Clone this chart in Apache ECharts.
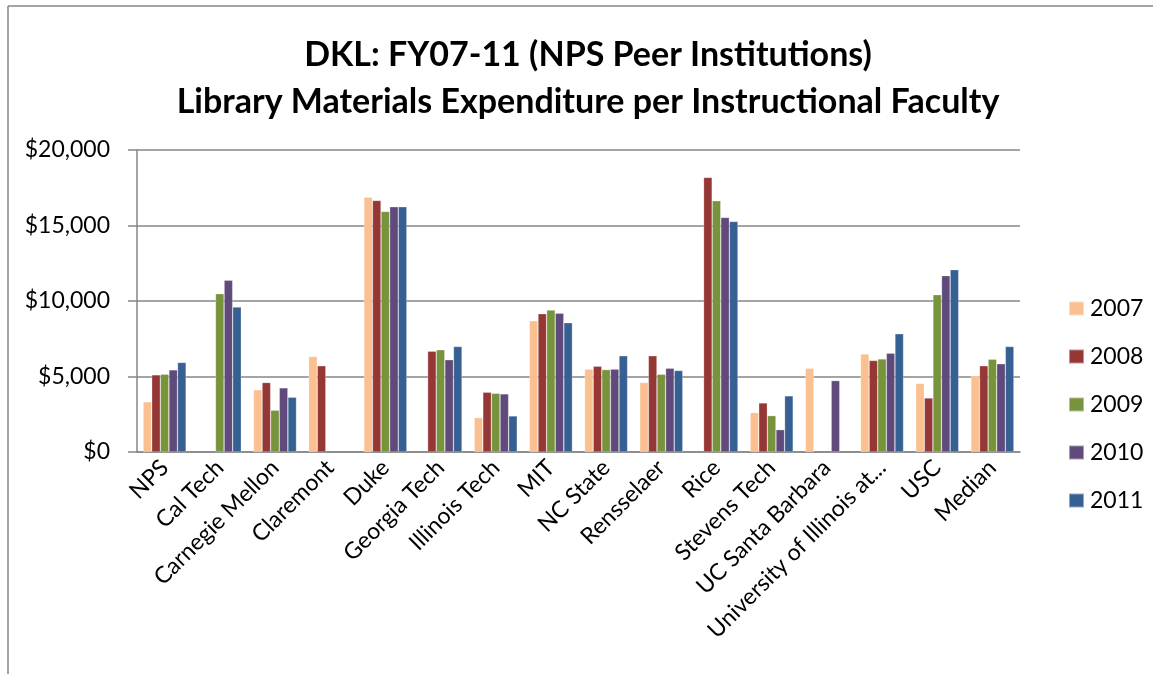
<!DOCTYPE html>
<html lang="en">
  <head>
    <meta charset="UTF-8" />
    <title>DKL FY07-11</title>
    <script src="https://cdn.jsdelivr.net/npm/echarts@6/dist/echarts.min.js"></script>
    <style>
      html, body { margin: 0; padding: 0; background: #fff; }
      .echarts { width: 1153px; height: 674px; }
    </style>
  </head>
  <body>
    <div class="echarts"></div>
    <script>
      const schools = ['NPS', 'Cal Tech', 'Carnegie Mellon', 'Claremont', 'Duke', 'Georgia Tech',
        'Illinois Tech', 'MIT', 'NC State', 'Rensselaer', 'Rice', 'Stevens Tech',
        'UC Santa Barbara', 'University of Illinois at...', 'USC', 'Median']
      const years = ['2007', '2008', '2009', '2010', '2011']
      // null = no bar drawn
      const fy2007 = [3320, null, 4120, 6330, 16880, null, 2280, 8690, 5490, 4600, null, 2610, 5550, 6500, 4540, 5040]
      const fy2008 = [5110, null, 4600, 5710, 16660, 6680, 3960, 9160, 5690, 6370, 18190, 3250, null, 6060, 3580, 5710]
      const fy2009 = [5150, 10490, 2770, null, 15930, 6770, 3890, 9400, 5460, 5150, 16640, 2410, null, 6170, 10420, 6150]
      const fy2010 = [5440, 11370, 4250, null, 16240, 6110, 3850, 9200, 5490, 5550, 15530, 1480, 4730, 6550, 11680, 5840]
      const fy2011 = [5930, 9600, 3630, null, 16240, 6990, 2390, 8560, 6370, 5400, 15270, 3720, null, 7830, 12080, 6990]
      const yTicks = [0, 5000, 10000, 15000, 20000]

      const colors = ['#FAC090', '#953735', '#77933C', '#604A7B', '#376092']
      const allData = [fy2007, fy2008, fy2009, fy2010, fy2011]
      const font = 'Lato, "Open Sans", sans-serif'

      const myCharts = echarts.init(document.querySelector('.echarts'))
      const option = {
        color: colors,
        animation: false,
        textStyle: { fontFamily: font },
        title: {
          text: 'DKL: FY07-11 (NPS Peer Institutions)\nLibrary Materials Expenditure per Instructional Faculty',
          left: 583,
          top: 27,
          textAlign: 'center',
          textStyle: { fontFamily: font, fontSize: 34, fontWeight: 'bold', color: '#000', lineHeight: 47 }
        },
        legend: {
          data: years,
          orient: 'vertical',
          left: 1063,
          top: 292,
          itemWidth: 15,
          itemHeight: 14,
          itemGap: 25,
          icon: 'rect',
          textStyle: { fontSize: 23, color: '#000', lineHeight: 23, padding: [0, 0, 0, 1] }
        },
        grid: { left: 137, right: 133, top: 150, bottom: 222 },
        xAxis: {
          type: 'category',
          data: schools,
          axisLine: { lineStyle: { color: '#868686', width: 1.5 } },
          axisTick: { show: false },
          axisLabel: { interval: 0, rotate: 45, fontSize: 23, color: '#000', margin: 12 }
        },
        yAxis: {
          type: 'value',
          min: yTicks[0],
          max: yTicks[yTicks.length - 1],
          interval: 5000,
          axisLine: { show: true, lineStyle: { color: '#868686', width: 1.5 } },
          axisTick: { show: true, length: 9, lineStyle: { color: '#868686', width: 1.5 } },
          splitLine: { lineStyle: { color: '#868686', width: 1.5 } },
          axisLabel: {
            fontSize: 23, color: '#000', margin: 27,
            formatter: v => '$' + v.toLocaleString('en-US')
          }
        },
        series: years.map((y, i) => ({
          name: y,
          type: 'bar',
          data: allData[i],
          barGap: '0%',
          barCategoryGap: '22%',
          itemStyle: { borderColor: 'rgba(255,255,255,0.45)', borderWidth: 0.6 }
        })),
        graphic: [
          { type: 'line', shape: { x1: 8, y1: 6, x2: 1153, y2: 6 }, style: { stroke: '#868686', lineWidth: 1.5 } },
          { type: 'line', shape: { x1: 8, y1: 6, x2: 8, y2: 674 }, style: { stroke: '#868686', lineWidth: 1.5 } }
        ]
      }
      myCharts.setOption(option)
    </script>
  </body>
</html>
